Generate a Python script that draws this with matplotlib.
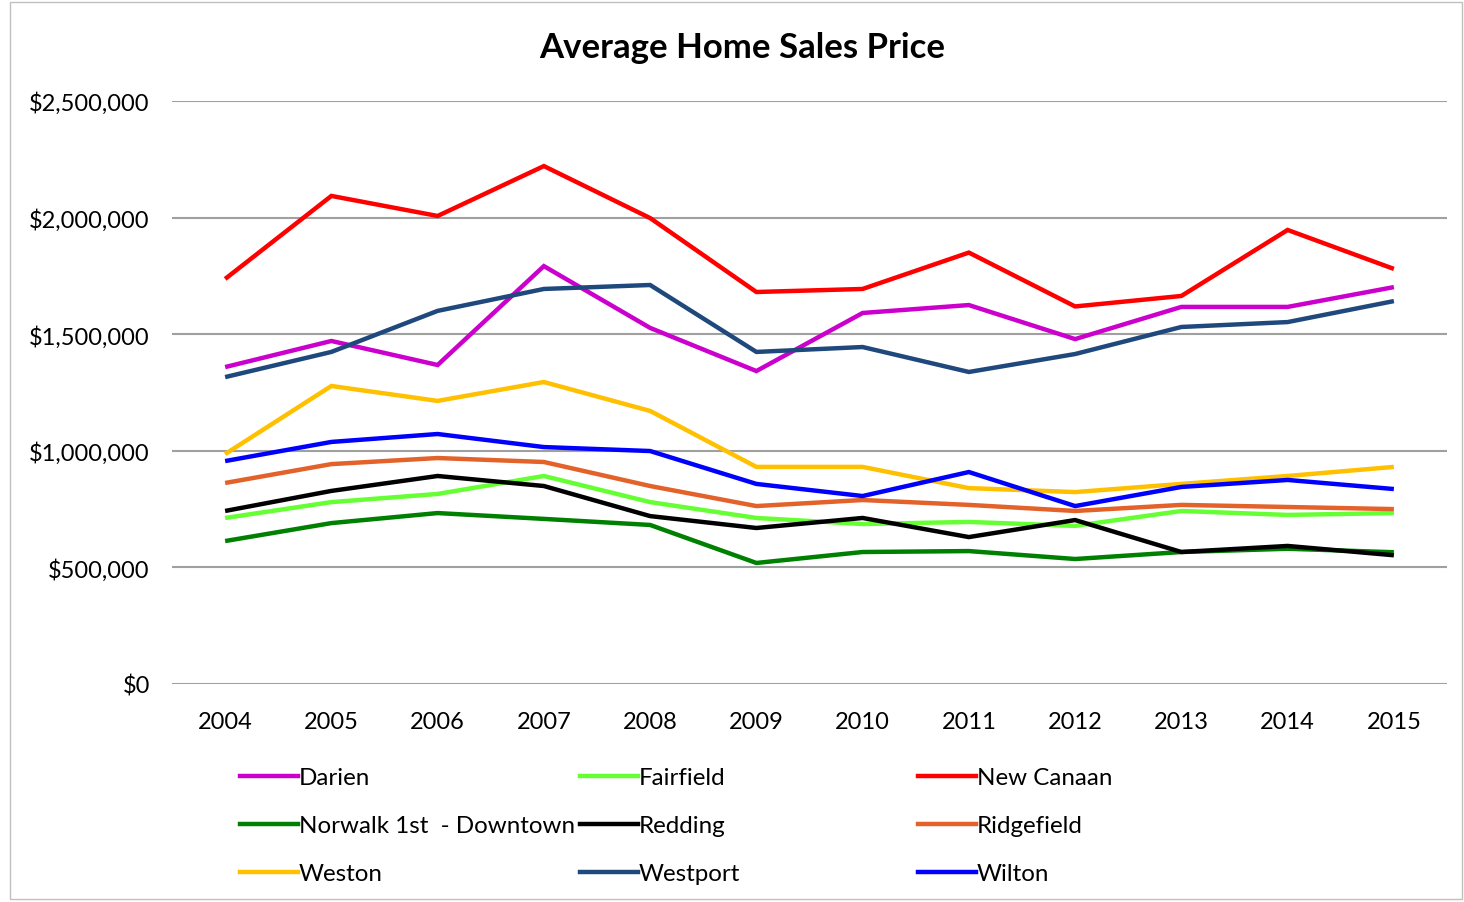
import matplotlib
matplotlib.use("Agg")
import matplotlib.pyplot as plt
from matplotlib.lines import Line2D
from matplotlib.patches import Rectangle
from matplotlib.ticker import FuncFormatter

years = list(range(2004, 2016))

darien     = [1359000, 1471000, 1368000, 1792000, 1527000, 1342000, 1591000, 1625000, 1479000, 1617000, 1617000, 1702000]
fairfield  = [712000, 780000, 815000, 892000, 780000, 712000, 686000, 695000, 678000, 742000, 725000, 733000]
new_canaan = [1737000, 2093000, 2007000, 2221000, 1998000, 1681000, 1694000, 1850000, 1619000, 1664000, 1947000, 1780000]
norwalk    = [613000, 690000, 733000, 708000, 682000, 519000, 566000, 570000, 536000, 566000, 580000, 565000]
redding    = [742000, 828000, 892000, 849000, 720000, 669000, 712000, 630000, 703000, 566000, 592000, 552000]
ridgefield = [862000, 943000, 969000, 952000, 849000, 763000, 789000, 768000, 742000, 768000, 759000, 750000]
weston     = [986000, 1278000, 1214000, 1295000, 1171000, 931000, 931000, 840000, 823000, 858000, 892000, 931000]
westport   = [1316000, 1424000, 1600000, 1694000, 1711000, 1424000, 1445000, 1338000, 1415000, 1531000, 1552000, 1642000]
wilton     = [956000, 1038000, 1072000, 1016000, 999000, 858000, 806000, 909000, 763000, 845000, 875000, 836000]

names = ["Darien", "Fairfield", "New Canaan", "Norwalk 1st  - Downtown", "Redding",
         "Ridgefield", "Weston", "Westport", "Wilton"]
series = [darien, fairfield, new_canaan, norwalk, redding, ridgefield, weston, westport, wilton]
colors = ["#CC00CC", "#66FF33", "#FF0000", "#008000", "#000000",
          "#E2622A", "#FFC000", "#1F497D", "#0000FF"]

yticks = [0, 500000, 1000000, 1500000, 2000000, 2500000]

plt.rcParams['font.family'] = ['Lato', 'DejaVu Sans']

W, H = 1464, 903
fig = plt.figure(figsize=(W / 100, H / 100), dpi=100)
fig.patch.set_facecolor("white")

# plot area in pixels: x 172..1447, y 102..685
ax = fig.add_axes([172 / W, 1 - 685 / H, (1447 - 172) / W, (685 - 102) / H])
for s, c in zip(series, colors):
    ax.plot(years, s, color=c, lw=3.2, solid_capstyle='butt', solid_joinstyle='miter', zorder=3)

ax.set_xlim(2003.5, 2015.5)
ax.set_ylim(0, 2500000)
ax.set_yticks(yticks)
ax.set_xticks(years)
ax.yaxis.set_major_formatter(FuncFormatter(lambda v, p: "${:,.0f}".format(v)))
ax.grid(axis='y', color='#a0a0a0', lw=1.5, zorder=1)
ax.grid(axis='x', visible=False)
for sp in ax.spines.values():
    sp.set_visible(False)
ax.tick_params(axis='both', length=0, labelsize=17, colors='#000000')
ax.tick_params(axis='y', pad=16)
ax.tick_params(axis='x', pad=19.5)
ax.set_axisbelow(True)

fig.text(742 / W, 1 - 48 / H, "Average Home Sales Price", ha='center', va='center',
         fontsize=25, fontweight='bold')

# legend (row-major, 3 columns)
col_x = [240, 580, 918]
row_y = [777, 825, 873]
for i, (n, c) in enumerate(zip(names, colors)):
    r, k = divmod(i, 3)
    x0 = col_x[k]
    y = 1 - row_y[r] / H
    fig.add_artist(Line2D([x0 / W, (x0 + 58) / W], [y, y], transform=fig.transFigure,
                          color=c, lw=3.2))
    fig.text((x0 + 59) / W, y - 2 / H, n, ha='left', va='center', fontsize=17.4)

fig.add_artist(Rectangle((10 / W, 1 - 900 / H), (1462 - 10) / W, (900 - 3) / H,
                         transform=fig.transFigure, fill=False, edgecolor='#c0c0c0', lw=1.0))

fig.savefig("out.png", dpi=100)
